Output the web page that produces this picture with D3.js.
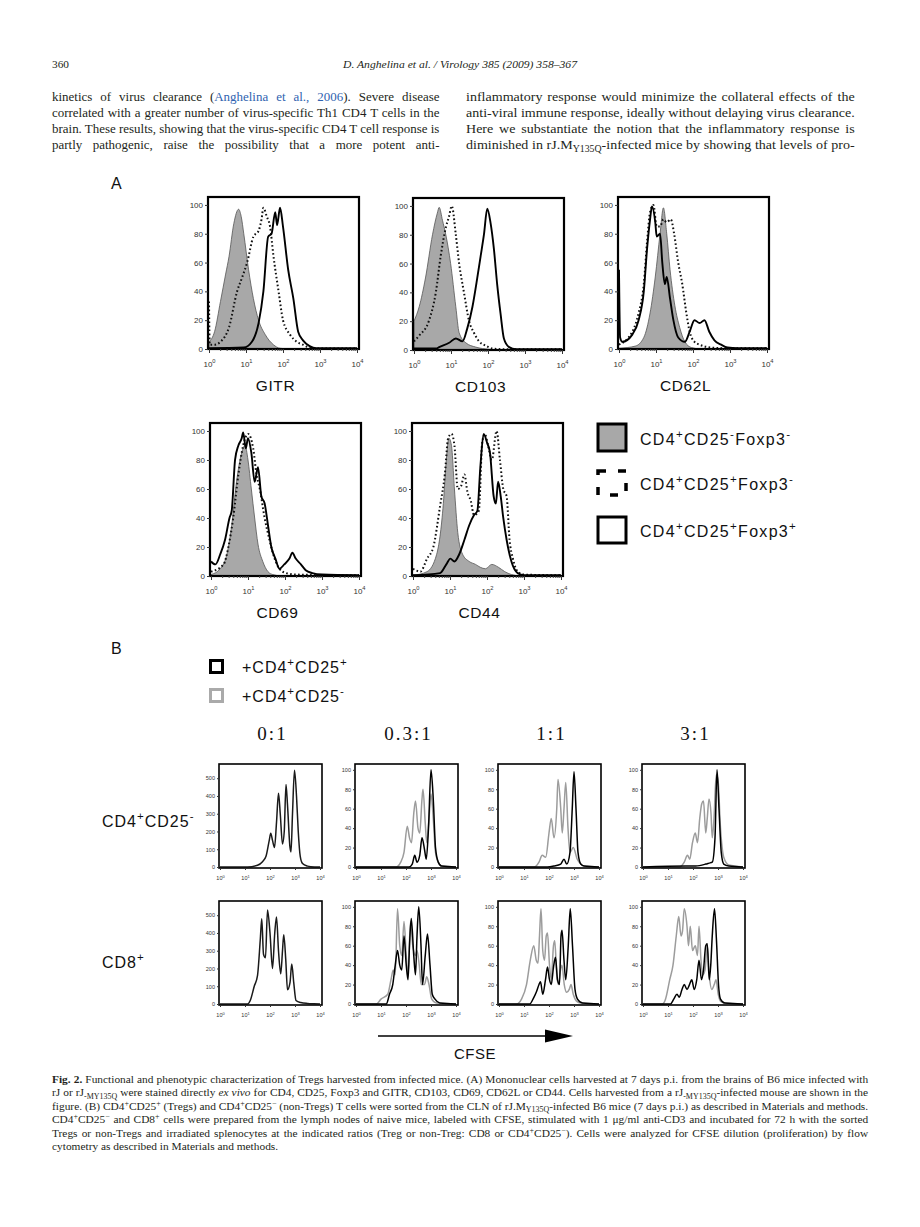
<!DOCTYPE html>
<html><head><meta charset="utf-8">
<script src="https://cdn.jsdelivr.net/npm/d3@7"></script>
<style>
html,body{margin:0;padding:0;background:#fff;}
svg{display:block;}
text{white-space:pre;}
</style></head><body>
<svg id="page" width="920" height="1227"></svg>
<script>
// ---------------- DATA ----------------
// tick labels
const decadeExps = [0, 1, 2, 3, 4];
const pctTicks = [0, 20, 40, 60, 80, 100];
const countTicks = [0, 100, 200, 300, 400, 500];
// categories
const markersA = ["GITR", "CD103", "CD62L", "CD69", "CD44"];
const legendA = ["CD4^{+}CD25^{-}Foxp3^{-}", "CD4^{+}CD25^{+}Foxp3^{-}", "CD4^{+}CD25^{+}Foxp3^{+}"];
const legendB = ["+CD4^{+}CD25^{+}", "+CD4^{+}CD25^{-}"];
const ratios = ["0:1", "0.3:1", "1:1", "3:1"];
const responders = ["CD4^{+}CD25^{-}", "CD8^{+}"];

// Panel A histograms: [log10 fluorescence, % of max]
const GITR_neg  = [[0,5],[0.15,12],[0.31,33],[0.45,52],[0.54,64],[0.67,87],[0.8,97],[0.87,92],[0.94,80],[1.07,55],[1.2,35],[1.34,20],[1.52,10],[1.74,3],[1.92,0.5],[2.2,0]];
const GITR_dot  = [[0,33],[0.02,3],[0.15,3],[0.31,5],[0.54,15],[0.76,40],[0.9,50],[1.03,60],[1.2,78],[1.34,82],[1.42,90],[1.47,98],[1.56,92],[1.65,85],[1.74,65],[1.88,40],[2.0,20],[2.19,10],[2.37,5],[2.54,3],[2.72,1],[3.0,0.3],[4,0.3]];
const GITR_treg = [[0,0.5],[0.94,1],[1.16,5],[1.34,18],[1.47,40],[1.6,78],[1.69,80],[1.79,95],[1.84,86],[1.92,98],[2.0,85],[2.14,55],[2.28,35],[2.41,12],[2.54,6],[2.72,2],[2.9,0.5],[4,0.5]];

const CD103_neg  = [[0,20],[0.14,30],[0.31,50],[0.5,80],[0.63,95],[0.68,99],[0.77,90],[0.86,80],[0.99,60],[1.13,30],[1.22,12],[1.4,5],[1.67,2],[2.03,0.5],[2.3,0]];
const CD103_dot  = [[0,6],[0.14,10],[0.4,20],[0.59,40],[0.72,65],[0.86,85],[0.95,93],[1.02,100],[1.13,80],[1.22,60],[1.35,40],[1.49,20],[1.62,12],[1.76,6],[1.94,3],[2.12,1],[2.48,0.5],[4,0.5]];
const CD103_treg = [[0,1],[0.6,1],[0.68,2],[0.95,5],[1.13,8],[1.31,6],[1.44,15],[1.58,30],[1.71,50],[1.8,65],[1.89,80],[1.98,98],[2.07,88],[2.16,70],[2.25,45],[2.34,25],[2.43,8],[2.57,2],[2.75,0.5],[4,0.5]];

const CD62L_neg  = [[0,0.5],[0.44,2],[0.67,8],[0.84,25],[0.98,50],[1.11,80],[1.2,98],[1.29,80],[1.38,55],[1.51,30],[1.64,15],[1.78,5],[1.96,1],[2.2,0]];
const CD62L_dot  = [[0,3],[0.36,12],[0.53,25],[0.67,45],[0.76,75],[0.84,95],[0.93,100],[1.02,85],[1.11,85],[1.2,90],[1.29,88],[1.4,90],[1.49,80],[1.6,60],[1.71,45],[1.82,25],[1.91,12],[2.04,5],[2.18,3],[2.49,1],[3,0.5],[4,0.5]];
const CD62L_treg = [[0,55],[0.03,8],[0.09,5],[0.36,10],[0.53,20],[0.67,40],[0.76,70],[0.84,90],[0.89,99],[0.98,88],[1.02,78],[1.11,80],[1.17,60],[1.24,45],[1.29,50],[1.38,35],[1.47,20],[1.6,8],[1.78,5],[1.91,12],[2.04,20],[2.18,18],[2.31,20],[2.44,12],[2.58,6],[2.76,3],[2.93,1],[3.2,0.5],[4,0.5]];

const CD69_neg  = [[0,1],[0.25,5],[0.43,15],[0.56,35],[0.69,65],[0.83,85],[0.92,90],[1.0,80],[1.09,60],[1.18,40],[1.27,22],[1.4,10],[1.54,3],[1.67,1],[1.9,0]];
const CD69_dot  = [[0,3],[0.34,8],[0.47,20],[0.6,40],[0.74,70],[0.87,90],[1.0,98],[1.14,88],[1.23,70],[1.32,60],[1.45,40],[1.58,25],[1.72,12],[1.85,5],[2.03,2],[2.29,1],[4,0.5]];
const CD69_treg = [[0,10],[0.12,8],[0.25,15],[0.38,25],[0.5,40],[0.56,45],[0.65,80],[0.74,90],[0.83,95],[0.87,99],[0.94,88],[1.0,95],[1.09,85],[1.18,65],[1.27,75],[1.36,55],[1.45,50],[1.54,35],[1.63,20],[1.74,12],[1.85,5],[1.98,8],[2.12,12],[2.2,16],[2.29,12],[2.43,8],[2.56,4],[2.74,2],[3.0,1],[4,0.5]];

const CD44_neg  = [[0,0.5],[0.38,3],[0.64,15],[0.82,50],[0.9,80],[0.97,95],[1.04,90],[1.12,60],[1.21,30],[1.34,15],[1.52,10],[1.69,8],[1.82,6],[1.96,5],[2.13,8],[2.31,6],[2.48,3],[2.66,1],[2.9,0]];
const CD44_dot  = [[0,5],[0.2,3],[0.38,12],[0.55,20],[0.73,48],[0.86,70],[0.95,95],[1.04,98],[1.12,90],[1.21,60],[1.3,62],[1.39,70],[1.47,58],[1.56,52],[1.65,42],[1.78,45],[1.87,92],[1.94,98],[2.03,90],[2.13,80],[2.26,100],[2.35,80],[2.44,60],[2.53,55],[2.61,25],[2.7,12],[2.83,3],[3.0,1],[4,0.5]];
const CD44_treg = [[0,0.5],[0.73,2],[0.9,8],[1.01,12],[1.12,10],[1.25,15],[1.39,25],[1.52,35],[1.65,42],[1.74,45],[1.82,75],[1.91,98],[2.0,92],[2.08,85],[2.18,55],[2.24,50],[2.3,65],[2.37,55],[2.44,40],[2.53,25],[2.66,10],[2.83,2],[3.0,0.5],[4,0.5]];

// Panel B CFSE histograms: [log10 CFSE, events or % of max]
const cd4_r0_black  = [[0,0],[1.1,0],[1.5,10],[1.7,30],[1.84,60],[1.97,150],[2.03,190],[2.1,150],[2.18,110],[2.26,250],[2.34,415],[2.41,300],[2.5,130],[2.57,200],[2.64,465],[2.7,350],[2.8,110],[2.84,85],[2.9,300],[2.98,545],[3.06,400],[3.13,200],[3.21,60],[3.3,20],[3.5,5],[3.63,2],[4,0]];
const cd4_r03_gray  = [[0,0],[1.6,0],[1.79,5],[1.92,15],[2.05,42],[2.14,30],[2.22,25],[2.31,55],[2.38,68],[2.48,40],[2.55,35],[2.64,70],[2.68,80],[2.77,45],[2.83,25],[2.92,50],[3.0,75],[3.09,50],[3.18,15],[3.29,5],[3.42,1],[4,0]];
const cd4_r03_black = [[0,0],[2.12,0],[2.25,3],[2.35,12],[2.44,5],[2.55,12],[2.64,30],[2.74,18],[2.81,8],[2.9,40],[3.0,100],[3.09,70],[3.18,20],[3.29,5],[3.42,1],[4,0]];
const cd4_r1_gray   = [[0,0],[1.4,0],[1.6,5],[1.73,12],[1.87,10],[2.0,35],[2.09,50],[2.2,30],[2.31,60],[2.36,90],[2.47,60],[2.53,35],[2.6,60],[2.67,87],[2.76,40],[2.84,15],[2.97,20],[3.13,8],[3.27,3],[3.4,1],[4,0]];
const cd4_r1_black  = [[0,0],[1.93,0],[2.2,1],[2.47,3],[2.6,8],[2.71,3],[2.84,15],[2.93,60],[3.0,98],[3.08,60],[3.16,15],[3.27,3],[3.4,1],[4,0]];
const cd4_r3_gray   = [[0,0],[1.45,0],[1.65,5],[1.78,12],[1.87,8],[1.98,25],[2.09,35],[2.18,25],[2.27,50],[2.35,65],[2.42,68],[2.51,35],[2.57,50],[2.64,70],[2.72,55],[2.77,30],[2.84,50],[2.93,95],[3.0,90],[3.1,40],[3.23,10],[3.43,2],[4,0]];
const cd4_r3_black  = [[0,0],[1.72,1],[2.11,1],[2.51,3],[2.64,4],[2.77,5],[2.88,30],[2.96,100],[3.04,60],[3.13,15],[3.23,3],[3.43,1],[4,0]];

const cd8_r0_black  = [[0,0],[1.1,0],[1.21,20],[1.37,100],[1.5,160],[1.61,360],[1.67,480],[1.74,280],[1.82,260],[1.9,530],[2.0,400],[2.1,200],[2.19,400],[2.26,490],[2.34,300],[2.43,170],[2.5,300],[2.55,390],[2.63,250],[2.7,80],[2.8,120],[2.87,225],[2.95,120],[3.04,20],[3.23,8],[3.5,3],[3.76,1],[4,0]];
const cd8_r03_gray  = [[0,0],[0.82,0],[1.0,5],[1.27,10],[1.4,25],[1.49,35],[1.57,30],[1.66,98],[1.75,60],[1.83,50],[1.92,85],[2.01,50],[2.08,30],[2.18,85],[2.27,60],[2.38,50],[2.44,55],[2.53,40],[2.61,20],[2.74,20],[2.83,28],[2.92,20],[3.03,5],[3.22,1],[4,0]];
const cd8_r03_black = [[0,0],[1.21,0],[1.34,10],[1.47,20],[1.57,40],[1.66,55],[1.75,40],[1.83,35],[1.92,70],[2.01,40],[2.08,25],[2.14,60],[2.21,88],[2.31,50],[2.38,30],[2.44,70],[2.51,100],[2.6,60],[2.66,20],[2.77,50],[2.86,72],[2.96,40],[3.05,10],[3.16,5],[3.35,1],[4,0]];
const cd8_r1_gray   = [[0,0],[0.7,0],[0.9,5],[1.1,20],[1.25,45],[1.39,60],[1.49,45],[1.56,42],[1.62,70],[1.68,98],[1.75,55],[1.82,45],[1.89,70],[1.94,73],[2.02,40],[2.09,25],[2.18,60],[2.23,65],[2.31,30],[2.38,20],[2.46,35],[2.52,40],[2.61,20],[2.71,12],[2.81,15],[2.88,20],[2.97,10],[3.1,3],[3.27,1],[4,0]];
const cd8_r1_black  = [[0,0],[1.23,0],[1.36,5],[1.49,12],[1.6,20],[1.66,23],[1.75,10],[1.86,25],[1.94,38],[2.02,25],[2.09,20],[2.18,38],[2.26,48],[2.34,25],[2.42,20],[2.48,70],[2.52,76],[2.6,45],[2.67,25],[2.77,60],[2.85,98],[2.94,60],[3.04,15],[3.14,5],[3.34,1],[4,0]];
const cd8_r3_gray   = [[0,0],[0.77,0],[0.9,5],[1.07,25],[1.2,40],[1.33,70],[1.43,90],[1.52,70],[1.58,75],[1.65,98],[1.76,80],[1.82,60],[1.89,80],[1.98,55],[2.09,60],[2.18,50],[2.24,80],[2.32,45],[2.39,30],[2.48,35],[2.57,60],[2.65,30],[2.75,15],[2.85,20],[2.92,25],[3.01,10],[3.1,3],[3.27,1],[4,0]];
const cd8_r3_black  = [[0,0],[1.1,0],[1.23,5],[1.36,10],[1.45,7],[1.56,15],[1.65,20],[1.76,15],[1.86,20],[1.95,25],[2.05,15],[2.15,25],[2.24,45],[2.34,25],[2.42,35],[2.51,60],[2.57,62],[2.65,25],[2.71,40],[2.77,70],[2.86,98],[2.94,65],[3.02,20],[3.1,5],[3.27,1],[4,0]];

// page text
const headerLeft = "360";
const headerCenter = "D. Anghelina et al. / Virology 385 (2009) 358–367";
const bodyLeft = [
  "kinetics of virus clearance (@{Anghelina et al., 2006}). Severe disease",
  "correlated with a greater number of virus-specific Th1 CD4 T cells in the",
  "brain. These results, showing that the virus-specific CD4 T cell response is",
  "partly pathogenic, raise the possibility that a more potent anti-"
];
const bodyRight = [
  "inflammatory response would minimize the collateral effects of the",
  "anti-viral immune response, ideally without delaying virus clearance.",
  "Here we substantiate the notion that the inflammatory response is",
  "diminished in rJ.M_{Y135Q}-infected mice by showing that levels of pro-"
];
const caption = [
  "!{Fig. 2.} Functional and phenotypic characterization of Tregs harvested from infected mice. (A) Mononuclear cells harvested at 7 days p.i. from the brains of B6 mice infected with",
  "rJ or rJ_{-MY135Q} were stained directly *{ex vivo} for CD4, CD25, Foxp3 and GITR, CD103, CD69, CD62L or CD44. Cells harvested from a rJ_{-MY135Q}-infected mouse are shown in the",
  "figure. (B) CD4^{+}CD25^{+} (Tregs) and CD4^{+}CD25^{−} (non-Tregs) T cells were sorted from the CLN of rJ.M_{Y135Q}-infected B6 mice (7 days p.i.) as described in Materials and methods.",
  "CD4^{+}CD25^{−} and CD8^{+} cells were prepared from the lymph nodes of naive mice, labeled with CFSE, stimulated with 1 μg/ml anti-CD3 and incubated for 72 h with the sorted",
  "Tregs or non-Tregs and irradiated splenocytes at the indicated ratios (Treg or non-Treg: CD8 or CD4^{+}CD25^{−}). Cells were analyzed for CFSE dilution (proliferation) by flow",
  "cytometry as described in Materials and methods."
];

// ---------------- DRAWING ----------------
const svg = d3.select("#page");
svg.append("rect").attr("width", 920).attr("height", 1227).attr("fill", "#fff");
const SANS = "Liberation Sans, Arial, Helvetica, sans-serif";
const SERIF = "Liberation Serif, Times New Roman, serif";
const INK = "#231f20";

function parseMarkup(str) {
  const parts = []; const re = /([\^_*!@])\{([^}]*)\}/g; let last = 0, m;
  const map = {"^": "sup", "_": "sub", "*": "i", "!": "b", "@": "blue"};
  while ((m = re.exec(str))) {
    if (m.index > last) parts.push({t: str.slice(last, m.index), s: ""});
    parts.push({t: m[2], s: map[m[1]]});
    last = re.lastIndex;
  }
  if (last < str.length) parts.push({t: str.slice(last), s: ""});
  return parts;
}
function plain(str) { return str.replace(/[\^_*!@]\{([^}]*)\}/g, "$1"); }
function rich(t, str, fs, supScale = 0.7, supShift = 0.38) {
  let shift = 0;
  parseMarkup(str).forEach(p => {
    const ts = t.append("tspan").text(p.t);
    let target = 0;
    if (p.s === "sup") { target = -fs * supShift; ts.attr("font-size", fs * supScale); }
    if (p.s === "sub") { target = fs * 0.22; ts.attr("font-size", fs * 0.7); }
    if (p.s === "i") ts.attr("font-style", "italic");
    if (p.s === "b") ts.attr("font-weight", "bold");
    if (p.s === "blue") ts.attr("fill", "#2f63b0");
    if (target - shift !== 0) ts.attr("dy", target - shift);
    shift = target;
  });
  return t;
}

function textBlock(lines, x0, y0, lead, W, fs, family, lastNatural) {
  const g = svg.append("g");
  const items = lines.map((s, i) => {
    const gg = g.append("g").attr("transform", `translate(${x0},${y0 + i * lead})`);
    const t = gg.append("text").attr("font-family", family).attr("font-size", fs).attr("fill", INK);
    rich(t, s, fs);
    const w = t.node().getComputedTextLength();
    const n = (plain(s).match(/ /g) || []).length;
    return {gg, t, w, n};
  });
  const just = items.filter((d, i) => !(lastNatural && i === items.length - 1));
  const cx = d3.min(just, d => W / d.w);
  items.forEach((d, i) => {
    d.gg.attr("transform", `translate(${x0},${y0 + i * lead}) scale(${cx},1)`);
    if (!(lastNatural && i === items.length - 1) && d.n > 0) {
      d.t.style("word-spacing", ((W / cx - d.w) / d.n) + "px");
    }
  });
}

// header
svg.append("text").attr("x", 52).attr("y", 68).attr("font-family", SERIF).attr("font-size", 10)
  .attr("fill", INK).attr("textLength", 17).attr("lengthAdjust", "spacingAndGlyphs").text(headerLeft);
svg.append("text").attr("x", 343).attr("y", 68).attr("font-family", SERIF).attr("font-size", 10.5)
  .attr("font-style", "italic").attr("fill", INK).attr("textLength", 234).attr("lengthAdjust", "spacingAndGlyphs").text(headerCenter);

// body text
textBlock(bodyLeft, 52, 101, 16, 388, 13.5, SERIF, false);
textBlock(bodyRight, 466, 101, 16, 389, 13.5, SERIF, false);
// caption
textBlock(caption, 52, 1083, 13.4, 816, 10.6, SERIF, true);

// panel letters
svg.append("text").attr("x", 111).attr("y", 189).attr("font-family", SANS).attr("font-size", 16).attr("fill", "#111").text("A");
svg.append("text").attr("x", 111).attr("y", 654).attr("font-family", SANS).attr("font-size", 16).attr("fill", "#111").text("B");

function tickLabels10(axisG, fs) {
  axisG.selectAll(".tick text").each(function(d) {
    const t = d3.select(this); t.text(null);
    rich(t, "10^{" + Math.round(Math.log10(d)) + "}", fs, 0.72, 0.42);
  });
}

// -------- Panel A --------
const A_W = 151;
const panelsA = [
  {title: markersA[0], x0: 208, y0: 197, h: 152, neg: GITR_neg, dot: GITR_dot, treg: GITR_treg},
  {title: markersA[1], x0: 413, y0: 198, h: 152, neg: CD103_neg, dot: CD103_dot, treg: CD103_treg},
  {title: markersA[2], x0: 618, y0: 197, h: 152, neg: CD62L_neg, dot: CD62L_dot, treg: CD62L_treg},
  {title: markersA[3], x0: 210, y0: 423, h: 153, neg: CD69_neg, dot: CD69_dot, treg: CD69_treg},
  {title: markersA[4], x0: 412, y0: 423, h: 153, neg: CD44_neg, dot: CD44_dot, treg: CD44_treg}
];
panelsA.forEach(p => {
  const g = svg.append("g").attr("transform", `translate(${p.x0},${p.y0})`);
  const x = d3.scaleLog().domain([1, 1e4]).range([1, A_W - 2]);
  const y = d3.scaleLinear().domain([0, 105.5]).range([p.h, 0]);
  const area = d3.area().x(d => x(10 ** d[0])).y0(y(0)).y1(d => y(d[1])).curve(d3.curveMonotoneX);
  const line = d3.line().x(d => x(10 ** d[0])).y(d => y(d[1])).curve(d3.curveMonotoneX);
  g.append("path").datum(p.neg).attr("d", area).attr("fill", "#a8a8a8").attr("stroke", "#555").attr("stroke-width", 0.8);
  g.append("path").datum(p.dot).attr("d", line).attr("fill", "none").attr("stroke", "#111")
    .attr("stroke-width", 2).attr("stroke-dasharray", "1.6,2.4");
  g.append("path").datum(p.treg).attr("d", line).attr("fill", "none").attr("stroke", "#000").attr("stroke-width", 1.9);
  g.append("rect").attr("width", A_W).attr("height", p.h).attr("fill", "none").attr("stroke", "#000").attr("stroke-width", 2.2);
  // y axis
  const ya = g.append("g").call(d3.axisLeft(y).tickValues(pctTicks).tickSize(3).tickPadding(2));
  ya.select(".domain").remove();
  ya.selectAll("text").attr("font-family", SANS).attr("font-size", 8).attr("fill", "#333");
  ya.selectAll("line").attr("stroke", "#333");
  // x axis minor
  const minor = x.ticks().filter(v => Math.abs(Math.log10(v) - Math.round(Math.log10(v))) > 1e-6);
  const xm = g.append("g").attr("transform", `translate(0,${p.h})`).call(d3.axisBottom(x).tickValues(minor).tickSize(2).tickFormat(""));
  xm.select(".domain").remove(); xm.selectAll("line").attr("stroke", "#444");
  // x axis major
  const xa = g.append("g").attr("transform", `translate(0,${p.h})`)
    .call(d3.axisBottom(x).tickValues(decadeExps.map(k => 10 ** k)).tickSize(4).tickPadding(8));
  xa.select(".domain").remove();
  xa.selectAll("line").attr("stroke", "#333");
  xa.selectAll("text").attr("font-family", SANS).attr("font-size", 8).attr("fill", "#333");
  tickLabels10(xa, 8);
  // title
  g.append("text").attr("x", A_W / 2 - 8).attr("y", p.h + 42).attr("text-anchor", "middle")
    .attr("font-family", SANS).attr("font-size", 15.5).attr("letter-spacing", 0.6).attr("fill", "#111").text(p.title);
});

// Panel A legend
const legA = svg.append("g");
const legRows = [{y: 424, h: 27}, {y: 471, h: 24}, {y: 517, h: 26}];
legRows.forEach((r, i) => {
  const rect = legA.append("rect").attr("x", 598).attr("y", r.y).attr("width", 28).attr("height", r.h)
    .attr("stroke", "#000").attr("stroke-width", 3);
  if (i === 0) rect.attr("fill", "#a8a8a8");
  else rect.attr("fill", "#fff");
  if (i === 1) rect.attr("stroke-dasharray", "8,12").attr("stroke-width", 3.5);
  const t = legA.append("text").attr("x", 640).attr("y", r.y + r.h / 2 + 7).attr("font-family", SANS)
    .attr("font-size", 16).attr("letter-spacing", 1.3).attr("fill", "#111");
  rich(t, legendA[i], 16, 0.72, 0.42);
});

// -------- Panel B --------
// legend
const legB = svg.append("g");
[{y: 659, c: "#000"}, {y: 688, c: "#aaa"}].forEach((r, i) => {
  legB.append("rect").attr("x", 210.5).attr("y", r.y + 1.5).attr("width", 12).attr("height", 12)
    .attr("fill", "#fff").attr("stroke", r.c).attr("stroke-width", 3);
  const t = legB.append("text").attr("x", 242).attr("y", r.y + 14).attr("font-family", SANS)
    .attr("font-size", 16).attr("letter-spacing", 1).attr("fill", "#111");
  rich(t, legendB[i], 16, 0.72, 0.42);
});

const B_W = 103, B_H = 104;
const colsB = [219, 355, 498, 642];
const rowsB = [764, 901];
ratios.forEach((r, j) => {
  svg.append("text").attr("x", colsB[j] + B_W / 2 + 2).attr("y", 740).attr("text-anchor", "middle")
    .attr("font-family", SERIF).attr("font-size", 19).attr("letter-spacing", 2).attr("fill", "#111").text(r);
});
const labelY = [827, 968];
responders.forEach((lab, i) => {
  const t = svg.append("text").attr("x", 102).attr("y", labelY[i]).attr("font-family", SANS)
    .attr("font-size", 16).attr("letter-spacing", 1).attr("fill", "#111");
  rich(t, lab, 16, 0.72, 0.45);
});

const seriesB = [
  [{black: cd4_r0_black}, {gray: cd4_r03_gray, black: cd4_r03_black}, {gray: cd4_r1_gray, black: cd4_r1_black}, {gray: cd4_r3_gray, black: cd4_r3_black}],
  [{black: cd8_r0_black}, {gray: cd8_r03_gray, black: cd8_r03_black}, {gray: cd8_r1_gray, black: cd8_r1_black}, {gray: cd8_r3_gray, black: cd8_r3_black}]
];
seriesB.forEach((row, i) => {
  row.forEach((s, j) => {
    const g = svg.append("g").attr("transform", `translate(${colsB[j]},${rowsB[i]})`);
    const x = d3.scaleLog().domain([1, 1e4]).range([1, B_W - 2]);
    const isCount = j === 0;
    const y = d3.scaleLinear().domain(isCount ? [0, 580] : [0, 106]).range([B_H - 1, 0]);
    const line = d3.line().x(d => x(10 ** d[0])).y(d => y(d[1])).curve(d3.curveMonotoneX);
    if (s.gray) g.append("path").datum(s.gray).attr("d", line).attr("fill", "none").attr("stroke", "#9c9c9c").attr("stroke-width", 1.5);
    g.append("path").datum(s.black).attr("d", line).attr("fill", "none").attr("stroke", isCount ? "#1a1a1a" : "#000").attr("stroke-width", 1.5);
    g.append("rect").attr("width", B_W).attr("height", B_H).attr("fill", "none").attr("stroke", "#000").attr("stroke-width", 1.6);
    const ya = g.append("g").call(d3.axisLeft(y).tickValues(isCount ? countTicks : pctTicks).tickSize(2).tickPadding(2));
    ya.select(".domain").remove();
    ya.selectAll("text").attr("font-family", SANS).attr("font-size", 5.5).attr("fill", "#333");
    ya.selectAll("line").attr("stroke", "#333");
    const xa = g.append("g").attr("transform", `translate(0,${B_H})`)
      .call(d3.axisBottom(x).tickValues(decadeExps.map(k => 10 ** k)).tickSize(2).tickPadding(6));
    xa.select(".domain").remove();
    xa.selectAll("line").attr("stroke", "#333");
    xa.selectAll("text").attr("font-family", SANS).attr("font-size", 5.5).attr("fill", "#333");
    tickLabels10(xa, 5.5);
  });
});

// CFSE arrow
svg.append("line").attr("x1", 378).attr("x2", 548).attr("y1", 1036).attr("y2", 1036).attr("stroke", "#000").attr("stroke-width", 1.6);
svg.append("path").attr("d", "M545,1029.5 L573,1036 L545,1042.5 Z").attr("fill", "#000");
svg.append("text").attr("x", 475).attr("y", 1059).attr("text-anchor", "middle").attr("font-family", SANS)
  .attr("font-size", 15).attr("letter-spacing", 0.5).attr("fill", "#111").text("CFSE");
</script>
</body></html>
